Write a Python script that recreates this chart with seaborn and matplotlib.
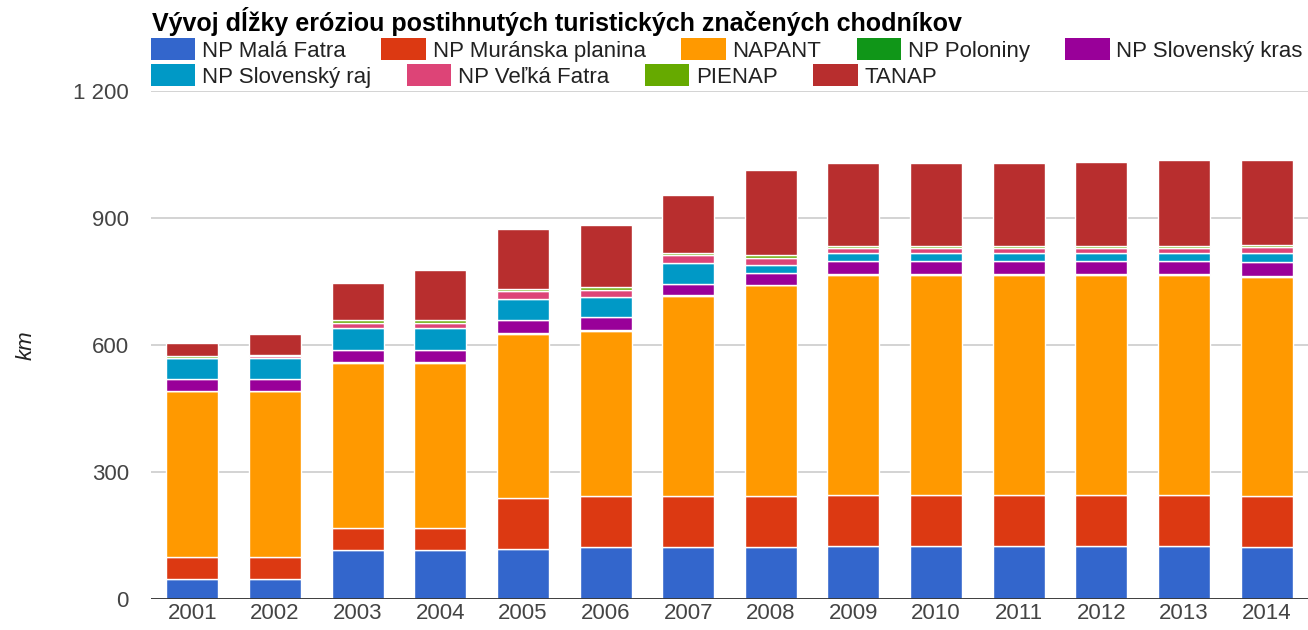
import matplotlib
matplotlib.use("Agg")
import matplotlib.pyplot as plt
import seaborn as sns
import numpy as np
import pandas as pd
from matplotlib.ticker import FuncFormatter, FixedLocator
from matplotlib.patches import Patch

years = [str(y) for y in range(2001, 2015)]

mala_fatra = [47, 47, 116, 116, 119, 122, 122, 122, 126, 126, 126, 126, 126, 122]
muranska_planina = [53, 53, 52, 52, 119, 122, 122, 122, 119, 119, 119, 119, 119, 122]
napant = [391, 391, 389, 389, 389, 388, 471, 497, 521, 521, 521, 521, 521, 517]
poloniny = [0, 0, 2, 2, 2, 3, 2, 0, 2, 2, 2, 2, 2, 3]
slovensky_kras = [29, 29, 30, 30, 30, 31, 28, 28, 30, 30, 30, 30, 30, 31]
slovensky_raj = [50, 50, 50, 50, 49, 48, 49, 20, 19, 19, 19, 19, 19, 22]
velka_fatra = [0, 3, 14, 14, 19, 17, 19, 16, 11, 11, 11, 11, 12, 14]
pienap = [3, 3, 5, 5, 5, 5, 5, 8, 6, 6, 6, 6, 5, 5]
tanap = [31, 51, 89, 119, 142, 147, 137, 200, 196, 196, 196, 199, 203, 201]

series_names = ["NP Malá Fatra", "NP Muránska planina", "NAPANT", "NP Poloniny",
                "NP Slovenský kras", "NP Slovenský raj", "NP Veľká Fatra", "PIENAP", "TANAP"]
series_values = [mala_fatra, muranska_planina, napant, poloniny, slovensky_kras,
                 slovensky_raj, velka_fatra, pienap, tanap]
colors = ["#3366cc", "#dc3912", "#ff9900", "#109618", "#990099",
          "#0099c6", "#dd4477", "#66aa00", "#b82e2e"]

title = "Vývoj dĺžky eróziou postihnutých turistických značených chodníkov"
y_ticks = [0, 300, 600, 900, 1200]

sns.set_theme(style="white")
plt.rcParams["font.family"] = ["Liberation Sans", "DejaVu Sans"]

W, H = 1308, 630
fig = plt.figure(figsize=(W / 100, H / 100), dpi=100)
ax = fig.add_axes([151 / W, 1 - 599 / H, 1157 / W, 508 / H])

bottom = np.zeros(len(years))
for name, vals, col in zip(series_names, series_values, colors):
    df = pd.DataFrame({"year": years, "km": vals})
    sns.barplot(data=df, x="year", y="km", color=col, saturation=1,
                bottom=bottom, width=0.63, edgecolor="white", linewidth=1.0,
                errorbar=None, ax=ax, zorder=3)
    bottom = bottom + np.array(vals, dtype=float)

ax.set_ylim(0, 1200)
ax.set_xlim(-0.5, 13.5)
ax.yaxis.set_major_locator(FixedLocator(y_ticks))
ax.yaxis.set_major_formatter(FuncFormatter(lambda v, p: f"{int(v):,}".replace(",", " ")))
ax.grid(axis="y", color="#cccccc", linewidth=1.2, zorder=0)
ax.grid(axis="x", visible=False)
ax.set_axisbelow(True)
for s in ax.spines.values():
    s.set_visible(False)
ax.axhline(0, color="#333333", linewidth=1.3, zorder=5)
ax.set_xlabel("")
ax.set_ylabel("")
ax.tick_params(axis="y", length=0, pad=16, labelsize=16, labelcolor="#444444")
ax.tick_params(axis="x", length=0, pad=3, labelsize=16, labelcolor="#444444")

fig.text(26 / W, 1 - 345 / H, "km", rotation=90, style="italic", fontsize=16,
         color="#222222", ha="center", va="center")

fig.text(152 / W, 1 - 22 / H, title, fontsize=18, fontweight="bold",
         color="#000000", ha="left", va="center")

handles = [Patch(facecolor=c, edgecolor="none") for c in colors]
leg_kw = dict(frameon=False, handlelength=2.0, handleheight=1.1, handletextpad=0.3,
              columnspacing=1.6, borderpad=0, borderaxespad=0, fontsize=16,
              labelcolor="#222222", loc="center left")
leg1 = fig.legend(handles[:5], series_names[:5], ncol=5,
                  bbox_to_anchor=(151 / W, 1 - 50 / H), **leg_kw)
leg2 = fig.legend(handles[5:], series_names[5:], ncol=4,
                  bbox_to_anchor=(151 / W, 1 - 76 / H), **leg_kw)

fig.savefig("out.png", dpi=100)
